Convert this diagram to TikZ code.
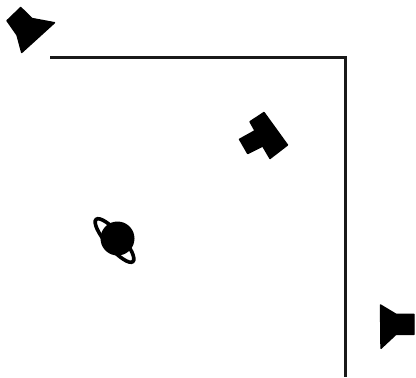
\documentclass[tikz,border=0pt]{standalone}
\tikzset{wall/.style={draw=black!90,line width=3.3pt,line join=miter},
solidshape/.style={fill=black,draw=black,line width=1.4pt,line join=round}}
\begin{document}
\begin{tikzpicture}[x=1pt,y=-1pt]
\useasboundingbox (0,0) rectangle (416,378);
\draw[wall] (50,57.5) -- (345.5,57.5) -- (345.5,377);
\path[solidshape] (7,20.7) -- (20.7,7.5) -- (32,18.5) -- (54.5,22.7) -- (21.7,52.5) -- (17,35) -- cycle;
\path[solidshape] (264,112.5) -- (287.5,145) -- (270,158.5) -- (262.7,146) -- (247.7,153.5) -- (239.5,139.3) -- (255,130.7) -- (250,121.7) -- cycle;
\path[solidshape] (380.5,305) -- (396,314.3) -- (414,314.3) -- (414,334.3) -- (396,334.3) -- (381,348.3) -- cycle;
\draw[black,line width=3.6pt,rotate around={-49:(114.5,240.5)}] (114.5,240.5) ellipse [x radius=28,y radius=8];
\fill[black] (117.5,238.5) circle (17);
\end{tikzpicture}
\end{document}
